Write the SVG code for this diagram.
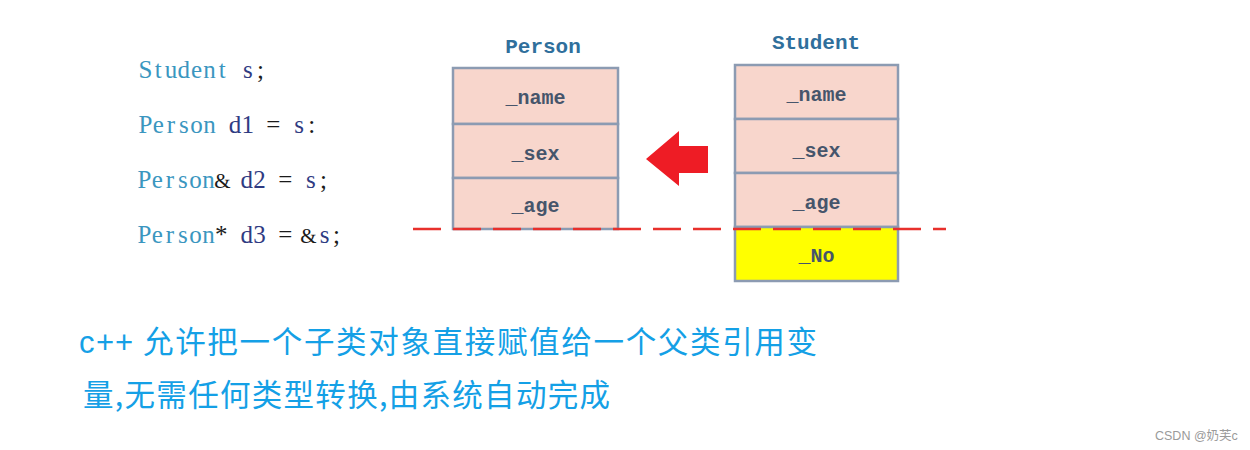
<svg xmlns="http://www.w3.org/2000/svg" width="1250" height="450" viewBox="0 0 1250 450">
<style>
.code{font-family:"Liberation Serif","Noto Sans CJK SC",serif;font-size:25px;text-anchor:middle}
.kw{fill:#3a96bf}
.id{fill:#2f3b82}
.op{fill:#1a1a1a}
.amp{fill:#1a1a1a;font-size:21px}
.cell{fill:#f8d6cc;stroke:#8c9bb2;stroke-width:2.5}
.cellY{fill:#ffff00;stroke:#8c9bb2;stroke-width:2.5}
.fld{font-family:"Liberation Mono","DejaVu Sans Mono",monospace;font-size:20px;font-weight:bold;fill:#46556b;text-anchor:middle}
.ttl{font-family:"Liberation Mono","DejaVu Sans Mono",monospace;font-size:21px;font-weight:bold;fill:#2f6f9c;text-anchor:middle}
.cap{font-family:"Noto Sans CJK SC","Noto Sans",sans-serif;font-size:30.5px;fill:#14a0e6}
.capl{font-family:"Liberation Sans","Noto Sans",sans-serif;font-size:31px;fill:#14a0e6}
</style>
<rect width="1250" height="450" fill="#ffffff"/>
<g id="code">
<text class="code" y="78"><tspan class="kw" x="145.4 158.2 171 183.8 196.6 209.4 222.2">Student</tspan><tspan class="id" x="247.8">s</tspan><tspan class="op" x="260.6">;</tspan></text>
<text class="code" y="133"><tspan class="kw" x="145.4 158.2 171 183.8 196.6 209.4">Person</tspan><tspan class="id" x="235 247.8">d1</tspan><tspan class="op" x="273.4">=</tspan><tspan class="id" x="299">s</tspan><tspan class="op" x="311.8">:</tspan></text>
<text class="code" y="188"><tspan class="kw" x="144.4 157.2 170 182.8 195.6 208.4">Person</tspan><tspan class="amp" x="222.5">&amp;</tspan><tspan class="id" x="246.8 259.6">d2</tspan><tspan class="op" x="285.2">=</tspan><tspan class="id" x="310.8">s</tspan><tspan class="op" x="323.6">;</tspan></text>
<text class="code" y="243"><tspan class="kw" x="144.4 157.2 170 182.8 195.6 208.4">Person</tspan><tspan class="op" x="221.2">*</tspan><tspan class="id" x="246.8 259.6">d3</tspan><tspan class="op" x="285.2">=</tspan><tspan class="amp" x="308.5">&amp;</tspan><tspan class="id" x="324.5">s</tspan><tspan class="op" x="336.4">;</tspan></text>
</g>
<g id="person">
<text class="ttl" x="543" y="53">Person</text>
<rect class="cell" x="453" y="68" width="165" height="56"/>
<rect class="cell" x="453" y="124" width="165" height="54"/>
<rect class="cell" x="453" y="178" width="165" height="51"/>
<text class="fld" x="535.5" y="104">_name</text>
<text class="fld" x="535.5" y="160">_sex</text>
<text class="fld" x="535.5" y="212">_age</text>
</g>
<g id="student">
<text class="ttl" x="816" y="49">Student</text>
<rect class="cell" x="735" y="65" width="163" height="54"/>
<rect class="cell" x="735" y="119" width="163" height="54"/>
<rect class="cell" x="735" y="173" width="163" height="54"/>
<rect class="cellY" x="735" y="227" width="163" height="54"/>
<text class="fld" x="816.5" y="101">_name</text>
<text class="fld" x="816.5" y="157">_sex</text>
<text class="fld" x="816.5" y="209">_age</text>
<text class="fld" x="816.5" y="262">_No</text>
</g>
<g id="connectors">
<polygon points="646,159 679,131 679,146 708,146 708,173 679,173 679,186" fill="#ee1c25"/>
<line x1="413" y1="229" x2="946" y2="229" stroke="#e8302c" stroke-width="2.5" stroke-dasharray="28 12"/>
</g>
<g id="caption">
<text class="capl" y="353"><tspan x="79 96 115">c++</tspan></text>
<text class="cap" x="143" y="353" textLength="674" lengthAdjust="spacing">允许把一个子类对象直接赋值给一个父类引用变</text>
<text class="cap" x="83" y="406" textLength="527" lengthAdjust="spacing">量,无需任何类型转换,由系统自动完成</text>
</g>
<text x="1155" y="440" font-family="Liberation Sans,'Noto Sans CJK SC',sans-serif" font-size="12.5" fill="#9a9a9a">CSDN @奶芙c</text>
</svg>
